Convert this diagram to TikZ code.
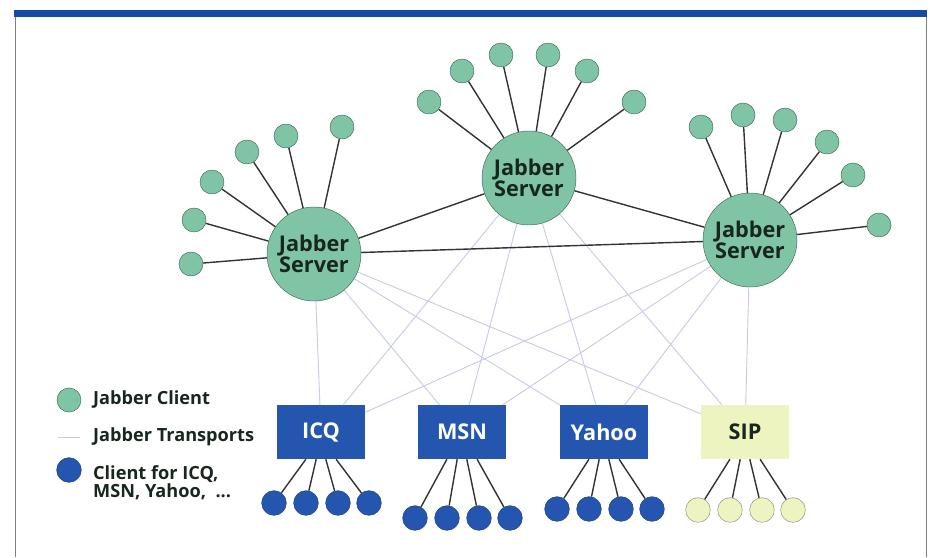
\documentclass[tikz,border=0pt]{standalone}
\usepackage{fontspec}
\setmainfont{Open Sans}
\usetikzlibrary{backgrounds}
\definecolor{jgreen}{RGB}{127,196,165}
\definecolor{jgreenline}{RGB}{62,105,86}
\definecolor{jblue}{RGB}{36,86,176}
\definecolor{jblueline}{RGB}{28,62,130}
\definecolor{jyellow}{RGB}{238,244,192}
\definecolor{jyellowline}{RGB}{140,140,120}
\definecolor{jtrans}{RGB}{200,203,228}
\definecolor{jtext}{RGB}{24,38,30}
\definecolor{jbar}{RGB}{22,74,164}

\begin{document}
\begin{tikzpicture}[x=0.03cm,y=-0.03cm,
	server/.style={circle,draw=jgreenline,fill=jgreen,minimum size=2.82cm,inner sep=0pt,
		align=center,text=jtext,font=\bfseries\fontsize{18.5}{15.8}\selectfont},
	client/.style={circle,draw=jgreenline,fill=jgreen,minimum size=0.72cm,inner sep=0pt},
	bclient/.style={circle,draw=jblueline,fill=jblue,minimum size=0.74cm,inner sep=0pt},
	yclient/.style={circle,draw=jyellowline,fill=jyellow,minimum size=0.74cm,inner sep=0pt},
	transport/.style={rectangle,fill=jblue,text=white,minimum width=2.64cm,minimum height=1.62cm,
		inner sep=0pt,font=\bfseries\fontsize{18.5}{20}\selectfont},
	link/.style={draw=black!80,line width=1.2pt},
	tline/.style={draw=jtrans,line width=0.8pt},
	legend/.style={anchor=west,align=left,text=jtext,font=\bfseries\fontsize{15.5}{15.5}\selectfont}]
	\useasboundingbox (0,0) rectangle (930,557);

	\fill[jbar] (14,10) rectangle (927,17);
	\draw[gray,line width=0.8pt] (15,17) -- (15,557);
	\draw[gray,line width=0.8pt] (926,17) -- (926,557);

	\node[server] (srvL) at (314,254) {Jabber\\Server};
	\node[server] (srvM) at (529,178) {Jabber\\Server};
	\node[server] (srvR) at (750,240) {Jabber\\Server};

	\node[transport] (icq) at (321,432) {ICQ};
	\node[transport] (msn) at (462,432) {MSN};
	\node[transport] (yahoo) at (604,432) {Yahoo};
	\node[transport,fill=jyellow,text=jtext] (sip) at (745,432) {SIP};

	\begin{pgfonlayer}{background}
		\foreach \s in {srvL,srvM,srvR}
			\foreach \t in {icq,msn,yahoo,sip}
				\draw[tline] (\s) -- (\t);
	\end{pgfonlayer}

	\draw[link] (srvL) -- (srvM);
	\draw[link] (srvM) -- (srvR);
	\draw[link] (srvL) -- (srvR);

	\foreach \x/\y [count=\i] in {342/127,286/136,247/152,212/182,194/220,191/264}{
		\node[client] (cL\i) at (\x,\y) {};
		\draw[link] (srvL) -- (cL\i);
	}
	\foreach \x/\y [count=\i] in {429/102,462/71,501/55,548/55,587/71,634/102}{
		\node[client] (cM\i) at (\x,\y) {};
		\draw[link] (srvM) -- (cM\i);
	}
	\foreach \x/\y [count=\i] in {701/127,743/115,785/120,827/142,853/175,879/225}{
		\node[client] (cR\i) at (\x,\y) {};
		\draw[link] (srvR) -- (cR\i);
	}

	\foreach \b/\dy/\sty in {icq/71/bclient,msn/86/bclient,yahoo/77/bclient,sip/78/yclient}
		\foreach \dx/\a [count=\i] in {-47/-119,-15/-100,17/-80,48/-61}{
			\node[\sty] (\b\i) at ([shift={(\dx,\dy)}]\b.center) {};
			\draw[link] (\b.\a) -- (\b\i);
		}

	% legend
	\node[client] (legC) at (69,400) {};
	\node[legend] at (89,400) {Jabber Client};
	\coordinate (legA) at (58,437);
	\coordinate (legB) at (80,437);
	\draw[tline] (legA) -- (legB);
	\node[legend] at (89,437) {Jabber Transports};
	\node[bclient] (legD) at (69,470) {};
	\node[legend,anchor=north west] at (89,461) {Client for ICQ,\\MSN, Yahoo,~ ...};
\end{tikzpicture}
\end{document}
